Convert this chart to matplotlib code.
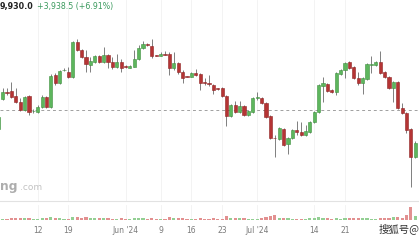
import numpy as np
import pandas as pd
import matplotlib.pyplot as plt
from matplotlib.lines import Line2D

# daily BTC/USD candles, 3 May - 6 Aug 2024
dates = pd.date_range("2024-05-03", "2024-08-06")
opens = [58080, 62580, 63630, 63780, 63030, 62130, 60930, 63030, 60740, 60630, 61380,
         62880, 61380, 66180, 64980, 66890, 66630, 65880, 71130, 69930, 68930, 67680,
         68130, 69030, 68130, 69180, 68130, 67380, 68130, 67460, 67230, 67380, 68580,
         70230, 70710, 70530, 69110, 69030, 69290, 69330, 67230, 67980, 66630, 65960,
         65880, 66480, 66330, 65010, 64860, 64680, 64110, 64230, 63030, 60030, 61680,
         60630, 61530, 60180, 60630, 62700, 62730, 61980, 60030, 56760, 56580, 58080,
         55830, 56730, 57930, 57630, 57180, 57630, 59130, 60630, 64530, 64830, 63930,
         63630, 66330, 66930, 68130, 67380, 65730, 64980, 65580, 67730, 67680, 68130,
         66630, 65880, 64230, 65130, 61230, 60480, 58080, 53880]
highs = [59880, 64230, 64230, 65130, 64230, 62730, 63030, 63180, 61080, 61680, 63180,
         63030, 66330, 66480, 66930, 67230, 67380, 71280, 71580, 70080, 69930, 68880,
         69180, 69180, 70380, 69330, 68880, 69330, 68580, 67680, 67680, 69930, 70680,
         71280, 70980, 71580, 69180, 69630, 69780, 69630, 69630, 68130, 66930, 66030,
         66630, 67080, 66480, 65730, 66180, 64830, 64230, 64380, 63110, 61830, 62280,
         62280, 61680, 60930, 62810, 63630, 62880, 62060, 60110, 57180, 58380, 58230,
         56880, 58080, 59280, 59130, 58680, 59280, 60780, 64830, 65880, 64980, 64080,
         66630, 67080, 68130, 68280, 67530, 66630, 65880, 67980, 69030, 68280, 69780,
         66780, 66030, 65210, 65280, 61980, 60630, 58230, 56280]
lows = [57930, 62430, 63180, 62730, 61980, 60780, 60780, 60180, 60480, 60480, 61230,
        61230, 61230, 64680, 64830, 66780, 65730, 65730, 69780, 68730, 66630, 66630,
        67980, 67980, 67980, 67230, 67080, 67230, 66630, 67230, 67160, 67310, 68430,
        70080, 70530, 68730, 68960, 68960, 69180, 66180, 66930, 66330, 64980, 65810,
        65810, 66030, 63930, 64680, 64530, 63330, 63930, 62880, 58530, 59880, 60480,
        60480, 60030, 60030, 60480, 62430, 61830, 59730, 56580, 53880, 56430, 55530,
        54330, 56580, 57180, 57030, 57030, 57480, 58980, 60480, 62130, 63630, 63480,
        63180, 66180, 65730, 67080, 65580, 64680, 63330, 65430, 66480, 67530, 66330,
        65730, 64080, 62130, 61080, 60330, 57480, 49380, 53730]
closes = [59880, 63630, 63540, 62880, 62130, 60930, 62880, 60630, 60810, 61380, 62880,
          61380, 66030, 64980, 66780, 66960, 65880, 71130, 69930, 68880, 67790, 68280,
          69030, 68130, 69180, 68130, 67380, 68130, 67230, 67380, 67530, 68580, 70230,
          70830, 70650, 69030, 69050, 69330, 69230, 67230, 67980, 66630, 65730, 65900,
          66480, 66180, 64980, 64950, 64800, 63930, 64050, 63030, 60030, 61680, 60630,
          61530, 60180, 60780, 62730, 62760, 61980, 59880, 56730, 56690, 58230, 55680,
          56730, 57930, 57630, 57180, 57780, 59130, 60630, 64680, 64980, 63780, 63630,
          66480, 66930, 67980, 67230, 65730, 64980, 65730, 67830, 67790, 68130, 66480,
          65880, 64230, 65130, 61230, 60480, 57930, 53880, 55980]
volume_k = [2.5, 1.5, 1.2, 2.0, 1.8, 2.2, 2.0, 2.4, 1.0, 1.2, 2.0, 1.8, 3.0, 2.2, 2.0,
            1.0, 1.2, 3.2, 2.6, 2.4, 3.0, 2.0, 1.8, 1.6, 2.0, 1.8, 1.2, 1.0, 1.6, 0.8,
            0.8, 1.8, 2.2, 1.8, 1.0, 2.4, 1.4, 1.0, 0.8, 2.6, 2.0, 2.0, 1.6, 0.8, 0.8,
            1.2, 2.2, 1.4, 1.2, 1.6, 0.8, 1.2, 3.8, 2.2, 2.0, 1.6, 1.8, 1.0, 1.2, 1.4,
            2.0, 2.6, 3.6, 4.6, 2.4, 2.2, 2.0, 1.2, 1.4, 1.2, 1.2, 1.6, 2.4, 3.0, 2.2,
            1.6, 1.0, 2.4, 1.4, 1.6, 1.6, 1.8, 1.6, 1.8, 1.8, 1.2, 1.0, 2.2, 1.8, 2.0,
            2.6, 3.0, 2.4, 4.8, 12.8, 4.0]
last_price = 60930
tick_dates = ["2024-05-12", "2024-05-19", "2024-06-01", "2024-06-09", "2024-06-16",
              "2024-06-23", "2024-07-01", "2024-07-14", "2024-07-21"]
tick_labels = ["12", "19", "Jun '24", "9", "16", "23", "Jul '24", "14", "21"]

o = np.array(opens)
h = np.array(highs)
l = np.array(lows)
c = np.array(closes)
x = np.arange(len(dates)) - 1
up = c >= o
ticks = [dates.get_loc(pd.Timestamp(d)) - 1 for d in tick_dates]

fig = plt.figure(figsize=(4.19, 2.40), dpi=100)
ax = fig.add_axes([0, 39 / 240, 1, 201 / 240])
axv = fig.add_axes([0, 20 / 240, 1, 15 / 240])

for a in (ax, axv):
    a.set_xlim(-0.59, 94.85)
    for s in a.spines.values():
        s.set_visible(False)
    for t in ticks:
        a.axvline(t, color="#f1f1f1", lw=0.6, zorder=0)

# candles
fill = np.where(up, "#5db65d", "#b53434")
edge = np.where(up, "#3f8f3f", "#8e2323")
ax.vlines(x, l, h, color="#6a6a6a", lw=0.6, zorder=2)
ax.bar(x, np.maximum(np.abs(c - o), 110), bottom=np.minimum(o, c), width=0.72,
       color=fill, edgecolor=edge, linewidth=0.4, zorder=3)
ax.axhline(last_price, color="#a0a0a0", lw=0.7, dashes=(3, 3), zorder=1)
ax.set_ylim(47280, 77430)
ax.set_xticks([])
ax.set_yticks([])

# volume
axv.bar(x, volume_k, width=0.72, color=np.where(up, "#93cf93", "#e29090"), zorder=2)
axv.set_ylim(0, 15)
axv.set_yticks([])
axv.set_xticks(ticks, tick_labels)
axv.tick_params(axis="x", length=0, pad=4.5, labelsize=5.5, labelcolor="#7a7a7a")

fig.add_artist(Line2D([0, 1], [39 / 240, 39 / 240], color="#e2e2e2", lw=0.8,
                      transform=fig.transFigure))

# header and watermarks
fig.text(0.0, 1 - 7 / 240, "9,930.0", va="center", fontsize=5.8,
         weight="bold", color="#222222")
fig.text(37 / 419, 1 - 7 / 240, "+3,938.5 (+6.91%)", va="center", fontsize=5.7,
         color="#3b9a5e")
fig.text(0.0, 1 - 190 / 240, "ng", va="baseline", fontsize=8.8,
         weight="bold", color="#adadad")
fig.text(20 / 419, 1 - 190 / 240, ".com", va="baseline", fontsize=6.5,
         color="#c2c2c2")
fig.text(379 / 419, 1 - 229 / 240, "搜狐号@", va="center", fontsize=7.5,
         color="#333333", family=["Noto Sans CJK SC", "DejaVu Sans"])

fig.savefig("out.png", dpi=100)
